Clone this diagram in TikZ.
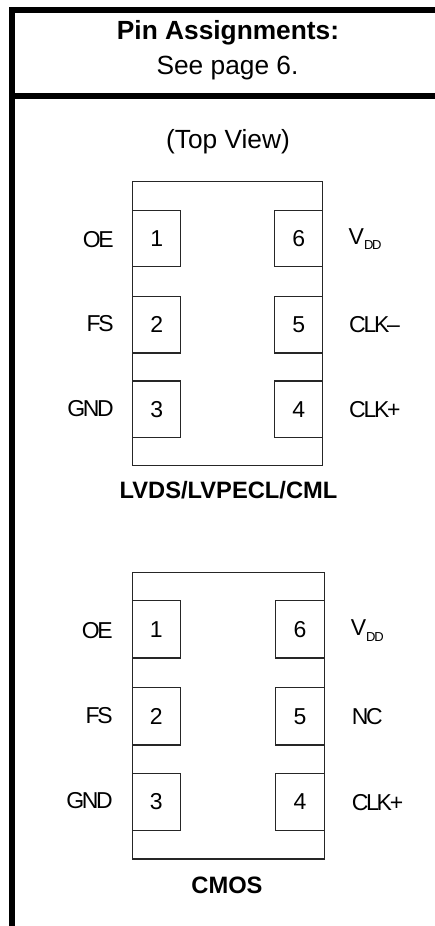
\documentclass[tikz,border=0pt]{standalone}
\usepackage{fontspec}
\setmainfont{Liberation Sans}
\newcommand{\ddsub}{\raisebox{-0.26em}{\fontsize{13}{15}\selectfont DD}}
\tikzset{
  x=1pt,y=-1pt,
  thick border/.style={line width=6pt,black},
  thin box/.style={line width=1.2pt,draw=black!85},
  pkgbox/.style={thin box,rectangle,inner sep=0pt},
  pada/.style={thin box,rectangle,minimum width=48pt,minimum height=56.5pt,inner sep=0pt,font=\fontsize{23}{27}\selectfont},
  padb/.style={thin box,rectangle,minimum width=48.4pt,minimum height=57.3pt,inner sep=0pt,font=\fontsize{23}{27}\selectfont},
  pinlabel/.style={inner sep=0pt,font=\fontsize{23}{27}\selectfont\addfontfeatures{LetterSpace=-10}},
  lefttext/.style={pinlabel,anchor=base east},
  righttext/.style={pinlabel,anchor=base west},
  title/.style={inner sep=0pt,anchor=base,font=\fontsize{26.3}{31}\selectfont},
  boldtitle/.style={inner sep=0pt,anchor=base,font=\fontsize{26.3}{31}\selectfont\bfseries},
  caption/.style={inner sep=0pt,anchor=base,font=\fontsize{23.7}{28}\selectfont\bfseries},
}
\begin{document}
\begin{tikzpicture}
\useasboundingbox (0,0) rectangle (435,926);
\fill[white] (0,0) rectangle (435,926);
\coordinate (tl) at (12,10);
\coordinate (tr) at (435,10);
\coordinate (bl) at (12,926);
\coordinate (ml) at (12,96);
\coordinate (mr) at (435,96);
\draw[thick border] (tr) -- (tl) -- (bl);
\draw[thick border] (ml) -- (mr);
\node[boldtitle] (head) at (228,39.5) {Pin Assignments:};
\node[title] (see) at (227.5,74.5) {See page 6.};
\node[title] (view) at (228,148.5) {(Top View)};
% first package
\node[pkgbox,minimum width=190pt,minimum height=284pt] (pkgA) at (227.7,323.7) {};
\node[pada,draw] (a1) at (156.7,238.5) {1};
\node[pada,draw] (a2) at (156.7,324.7) {2};
\node[pada,draw] (a3) at (156.7,409.2) {3};
\node[pada,draw] (a6) at (298.7,238.5) {6};
\node[pada,draw] (a5) at (298.7,324.7) {5};
\node[pada,draw] (a4) at (298.7,409.2) {4};
\node[lefttext] (la1) at (114,247.5) {OE};
\node[lefttext] (la2) at (114,331) {FS};
\node[lefttext] (la3) at (114,416.7) {GND};
\node[righttext] (la6) at (348.5,244) {V\ddsub};
\node[righttext] (la5) at (349,332.5) {CLK–};
\node[righttext] (la4) at (349,417.5) {CLK+};
\node[caption] (capA) at (228.5,498.5) {LVDS/LVPECL/CML};
% second package
\node[pkgbox,minimum width=192pt,minimum height=286.7pt] (pkgB) at (228.1,715.7) {};
\node[padb,draw] (b1) at (156.3,629.3) {1};
\node[padb,draw] (b2) at (156.3,716.3) {2};
\node[padb,draw] (b3) at (156.3,802) {3};
\node[padb,draw] (b6) at (299.9,629.3) {6};
\node[padb,draw] (b5) at (299.9,716.3) {5};
\node[padb,draw] (b4) at (299.9,802) {4};
\node[lefttext] (lb1) at (113,638.7) {OE};
\node[lefttext] (lb2) at (113,723.7) {FS};
\node[lefttext] (lb3) at (113,808.7) {GND};
\node[righttext] (lb6) at (350.7,635.7) {V\ddsub};
\node[righttext] (lb5) at (351.7,724.5) {NC};
\node[righttext] (lb4) at (351.7,810.7) {CLK+};
\node[caption] (capB) at (227,893.2) {CMOS};
\end{tikzpicture}
\end{document}
